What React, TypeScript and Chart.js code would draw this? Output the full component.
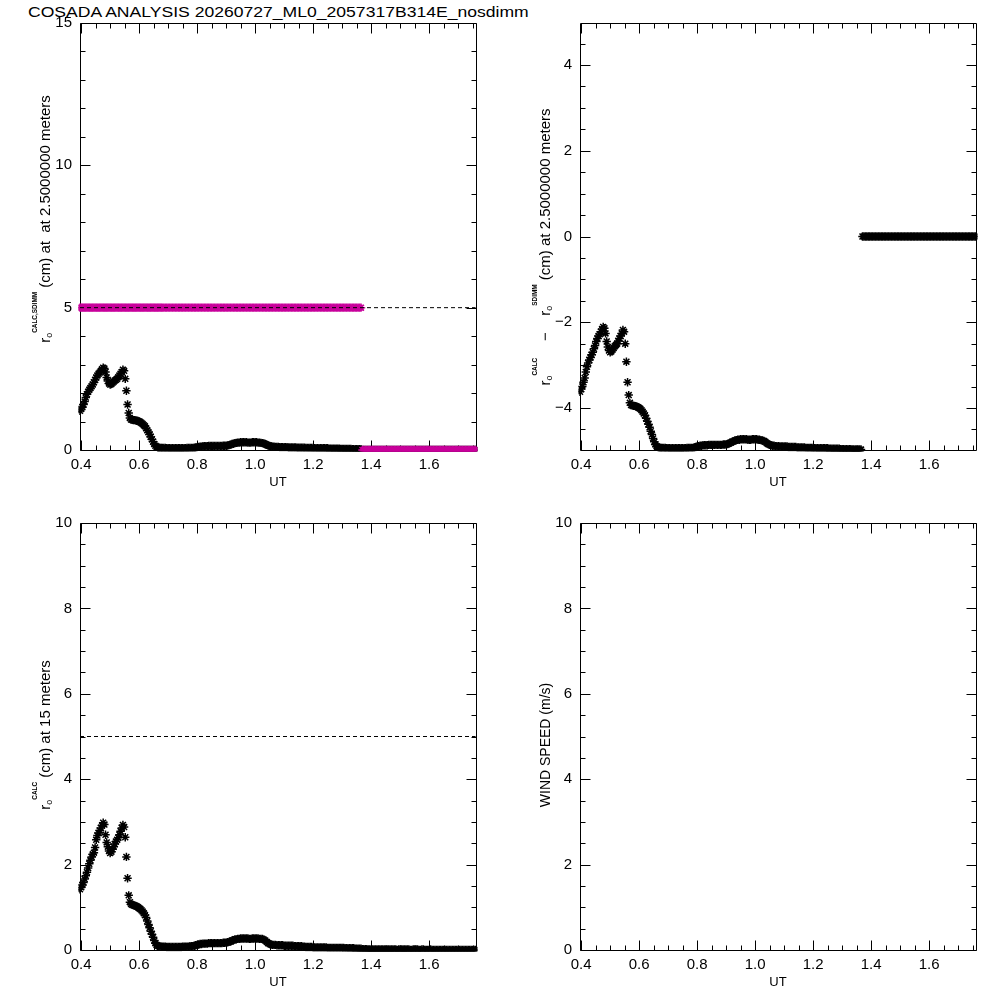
import React, { useEffect, useRef } from "react";
import { Chart, registerables } from "chart.js";

Chart.register(...registerables);

const FONT = '"Liberation Sans", Arial, Helvetica, sans-serif';

const PLOT_TITLE = "COSADA ANALYSIS 20260727_ML0_2057317B314E_nosdimm";

// UT (hours) of every sample
const UT = [
  0.396, 0.400, 0.404, 0.408, 0.412, 0.416, 0.420, 0.424, 0.428, 0.432,
  0.436, 0.440, 0.444, 0.448, 0.452, 0.456, 0.460, 0.464, 0.468, 0.472,
  0.476, 0.480, 0.484, 0.488, 0.492, 0.496, 0.500, 0.504, 0.508, 0.512,
  0.516, 0.520, 0.524, 0.528, 0.532, 0.536, 0.540, 0.544, 0.548, 0.552,
  0.556, 0.560, 0.564, 0.568, 0.572, 0.576, 0.580, 0.584, 0.588, 0.592,
  0.596, 0.600, 0.604, 0.608, 0.612, 0.616, 0.620, 0.624, 0.628, 0.632,
  0.636, 0.640, 0.644, 0.648, 0.652, 0.656, 0.660, 0.664, 0.668, 0.672,
  0.676, 0.680,
  0.685, 0.690, 0.695, 0.700, 0.705, 0.710, 0.715, 0.720, 0.725, 0.730,
  0.735, 0.740, 0.745, 0.750, 0.755, 0.760, 0.765, 0.770, 0.775, 0.780,
  0.785, 0.790, 0.795, 0.800, 0.805, 0.810, 0.815, 0.820, 0.825, 0.830,
  0.835, 0.840, 0.845, 0.850, 0.855, 0.860, 0.865, 0.870, 0.875, 0.880,
  0.885, 0.890, 0.895, 0.900, 0.905, 0.910, 0.915, 0.920, 0.925, 0.930,
  0.935, 0.940, 0.945, 0.950, 0.955, 0.960, 0.965, 0.970, 0.975, 0.980,
  0.985, 0.990, 0.995, 1.000, 1.005, 1.010, 1.015, 1.020, 1.025, 1.030,
  1.035, 1.040, 1.045, 1.050, 1.055, 1.060, 1.065, 1.070, 1.075, 1.080,
  1.085, 1.090, 1.095, 1.100, 1.105, 1.110, 1.115, 1.120, 1.125, 1.130,
  1.135, 1.140, 1.145, 1.150, 1.155, 1.160, 1.165, 1.170, 1.175, 1.180,
  1.185, 1.190, 1.195, 1.200, 1.205, 1.210, 1.215, 1.220, 1.225, 1.230,
  1.235, 1.240, 1.245, 1.250, 1.255, 1.260, 1.265, 1.270, 1.275, 1.280,
  1.285, 1.290, 1.295, 1.300, 1.305, 1.310, 1.315, 1.320, 1.325, 1.330,
  1.335, 1.340, 1.345, 1.350, 1.355, 1.360, 1.365,
  1.370, 1.375, 1.380, 1.385, 1.390, 1.395, 1.400, 1.405, 1.410, 1.415,
  1.420, 1.425, 1.430, 1.435, 1.440, 1.445, 1.450, 1.455, 1.460, 1.465,
  1.470, 1.475, 1.480, 1.485, 1.490, 1.495, 1.500, 1.505, 1.510, 1.515,
  1.520, 1.525, 1.530, 1.535, 1.540, 1.545, 1.550, 1.555, 1.560, 1.565,
  1.570, 1.575, 1.580, 1.585, 1.590, 1.595, 1.600, 1.605, 1.610, 1.615,
  1.620, 1.625, 1.630, 1.635, 1.640, 1.645, 1.650, 1.655, 1.660, 1.665,
  1.670, 1.675, 1.680, 1.685, 1.690, 1.695, 1.700, 1.705, 1.710, 1.715,
  1.720, 1.725, 1.730, 1.735, 1.740, 1.745, 1.750, 1.755, 1.760,
];

// r0 computed at 2.5 m (cm)
const R0_CALC_2P5 = [
  1.38, 1.44, 1.50, 1.60, 1.70, 1.84, 1.96, 2.05, 2.12, 2.18,
  2.24, 2.30, 2.38, 2.46, 2.55, 2.62, 2.68, 2.72, 2.78, 2.84,
  2.89, 2.86, 2.74, 2.55, 2.42, 2.34, 2.30, 2.32, 2.36, 2.40,
  2.44, 2.47, 2.50, 2.56, 2.62, 2.68, 2.74, 2.82, 2.78, 2.50,
  2.08, 1.60, 1.30, 1.12, 1.07, 1.06, 1.05, 1.05, 1.04, 1.03,
  1.02, 1.00, 0.98, 0.95, 0.91, 0.87, 0.83, 0.76, 0.69, 0.62,
  0.55, 0.46, 0.38, 0.29, 0.21, 0.15, 0.11, 0.09, 0.08, 0.07,
  0.07, 0.07,
  0.07, 0.07, 0.06, 0.06, 0.06, 0.06, 0.06, 0.06, 0.06, 0.06,
  0.06, 0.06, 0.06, 0.06, 0.06, 0.06, 0.07, 0.07, 0.07, 0.07,
  0.07, 0.08, 0.09, 0.10, 0.11, 0.12, 0.12, 0.13, 0.13, 0.13,
  0.13, 0.14, 0.14, 0.14, 0.14, 0.14, 0.14, 0.14, 0.14, 0.14,
  0.14, 0.15, 0.15, 0.15, 0.16, 0.17, 0.19, 0.21, 0.22, 0.24,
  0.25, 0.26, 0.26, 0.27, 0.27, 0.27, 0.27, 0.27, 0.26, 0.26,
  0.26, 0.27, 0.27, 0.27, 0.27, 0.26, 0.26, 0.25, 0.24, 0.23,
  0.21, 0.18, 0.16, 0.14, 0.13, 0.12, 0.12, 0.11, 0.11, 0.11,
  0.10, 0.10, 0.10, 0.10, 0.10, 0.10, 0.09, 0.09, 0.09, 0.09,
  0.09, 0.09, 0.08, 0.08, 0.08, 0.08, 0.08, 0.08, 0.07, 0.07,
  0.07, 0.07, 0.07, 0.07, 0.06, 0.06, 0.06, 0.06, 0.06, 0.06,
  0.06, 0.06, 0.06, 0.06, 0.05, 0.05, 0.05, 0.05, 0.05, 0.05,
  0.05, 0.05, 0.04, 0.04, 0.04, 0.04, 0.04, 0.04, 0.04, 0.04,
  0.03, 0.03, 0.03, 0.03, 0.03, 0.03, 0.03,
  0, 0, 0, 0, 0, 0, 0, 0, 0, 0,
  0, 0, 0, 0, 0, 0, 0, 0, 0, 0,
  0, 0, 0, 0, 0, 0, 0, 0, 0, 0,
  0, 0, 0, 0, 0, 0, 0, 0, 0, 0,
  0, 0, 0, 0, 0, 0, 0, 0, 0, 0,
  0, 0, 0, 0, 0, 0, 0, 0, 0, 0,
  0, 0, 0, 0, 0, 0, 0, 0, 0, 0,
  0, 0, 0, 0, 0, 0, 0, 0, 0,
];

// SDIMM r0 (cm)
const R0_SDIMM = [
  5, 5, 5, 5, 5, 5, 5, 5, 5, 5,
  5, 5, 5, 5, 5, 5, 5, 5, 5, 5,
  5, 5, 5, 5, 5, 5, 5, 5, 5, 5,
  5, 5, 5, 5, 5, 5, 5, 5, 5, 5,
  5, 5, 5, 5, 5, 5, 5, 5, 5, 5,
  5, 5, 5, 5, 5, 5, 5, 5, 5, 5,
  5, 5, 5, 5, 5, 5, 5, 5, 5, 5,
  5, 5,
  5, 5, 5, 5, 5, 5, 5, 5, 5, 5,
  5, 5, 5, 5, 5, 5, 5, 5, 5, 5,
  5, 5, 5, 5, 5, 5, 5, 5, 5, 5,
  5, 5, 5, 5, 5, 5, 5, 5, 5, 5,
  5, 5, 5, 5, 5, 5, 5, 5, 5, 5,
  5, 5, 5, 5, 5, 5, 5, 5, 5, 5,
  5, 5, 5, 5, 5, 5, 5, 5, 5, 5,
  5, 5, 5, 5, 5, 5, 5, 5, 5, 5,
  5, 5, 5, 5, 5, 5, 5, 5, 5, 5,
  5, 5, 5, 5, 5, 5, 5, 5, 5, 5,
  5, 5, 5, 5, 5, 5, 5, 5, 5, 5,
  5, 5, 5, 5, 5, 5, 5, 5, 5, 5,
  5, 5, 5, 5, 5, 5, 5, 5, 5, 5,
  5, 5, 5, 5, 5, 5, 5,
  0, 0, 0, 0, 0, 0, 0, 0, 0, 0,
  0, 0, 0, 0, 0, 0, 0, 0, 0, 0,
  0, 0, 0, 0, 0, 0, 0, 0, 0, 0,
  0, 0, 0, 0, 0, 0, 0, 0, 0, 0,
  0, 0, 0, 0, 0, 0, 0, 0, 0, 0,
  0, 0, 0, 0, 0, 0, 0, 0, 0, 0,
  0, 0, 0, 0, 0, 0, 0, 0, 0, 0,
  0, 0, 0, 0, 0, 0, 0, 0, 0,
];

// r0 computed at 15 m (cm)
const R0_CALC_15 = [
  1.42, 1.47, 1.52, 1.58, 1.66, 1.74, 1.82, 1.92, 2.02, 2.10,
  2.18, 2.24, 2.28, 2.40, 2.58, 2.68, 2.74, 2.80, 2.86, 2.92,
  2.98, 2.94, 2.70, 2.52, 2.42, 2.32, 2.27, 2.30, 2.36, 2.42,
  2.48, 2.54, 2.58, 2.63, 2.70, 2.78, 2.86, 2.93, 2.88, 2.64,
  2.18, 1.68, 1.28, 1.12, 1.08, 1.06, 1.05, 1.04, 1.03, 1.02,
  1.00, 0.98, 0.96, 0.93, 0.90, 0.86, 0.82, 0.76, 0.68, 0.60,
  0.52, 0.44, 0.37, 0.30, 0.22, 0.16, 0.12, 0.10, 0.09, 0.08,
  0.08, 0.08,
  0.08, 0.08, 0.07, 0.07, 0.07, 0.07, 0.07, 0.07, 0.07, 0.07,
  0.07, 0.07, 0.07, 0.08, 0.08, 0.08, 0.08, 0.08, 0.09, 0.09,
  0.09, 0.10, 0.11, 0.12, 0.13, 0.14, 0.14, 0.15, 0.15, 0.15,
  0.15, 0.16, 0.16, 0.16, 0.16, 0.16, 0.16, 0.16, 0.16, 0.16,
  0.16, 0.17, 0.17, 0.17, 0.18, 0.19, 0.20, 0.22, 0.23, 0.25,
  0.25, 0.26, 0.26, 0.27, 0.27, 0.27, 0.27, 0.27, 0.27, 0.26,
  0.26, 0.27, 0.27, 0.27, 0.27, 0.27, 0.26, 0.26, 0.26, 0.24,
  0.22, 0.19, 0.16, 0.14, 0.13, 0.12, 0.12, 0.12, 0.11, 0.11,
  0.11, 0.11, 0.11, 0.10, 0.10, 0.10, 0.10, 0.10, 0.10, 0.10,
  0.09, 0.09, 0.09, 0.09, 0.09, 0.09, 0.08, 0.08, 0.07, 0.07,
  0.07, 0.07, 0.07, 0.06, 0.06, 0.06, 0.06, 0.06, 0.06, 0.06,
  0.06, 0.06, 0.06, 0.05, 0.05, 0.05, 0.05, 0.05, 0.05, 0.05,
  0.05, 0.05, 0.05, 0.05, 0.05, 0.04, 0.04, 0.04, 0.04, 0.04,
  0.04, 0.04, 0.03, 0.03, 0.03, 0.03, 0.03,
  0.02, 0.02, 0.02, 0.02, 0.01, 0.01, 0.01, 0.01, 0.01, 0.01,
  0.01, 0.01, 0.01, 0.01, 0.01, 0.01, 0.01, 0.01, 0.01, 0.01,
  0.01, 0.01, 0.01, 0.01, 0.00, 0.01, 0.01, 0.01, 0.01, 0.01,
  0.01, 0.01, 0.01, 0.00, 0.00, 0.01, 0.01, 0.01, 0.01, 0.00,
  0.00, 0.01, 0.01, 0.00, 0.00, 0.00, 0.00, 0.01, 0.00, 0.00,
  0.00, 0.00, 0.00, 0.00, 0.00, 0.00, 0.00, 0.00, 0.00, 0.00,
  0.00, 0.00, 0.00, 0.00, 0.00, 0.00, 0.00, 0.00, 0.00, 0.00,
  0.00, 0.00, 0.00, 0.00, 0.00, 0.00, 0.00, 0.00, 0.00,
];

const R0_REFERENCE = 5;

const X_RANGE = [0.396, 1.7615];
const X_TICKS = [0.4, 0.6, 0.8, 1.0, 1.2, 1.4, 1.6];
const Y_TICKS_R0_2P5 = [0, 5, 10, 15];
const Y_TICKS_DIFF = [-4, -2, 0, 2, 4];
const Y_TICKS_R0_15 = [0, 2, 4, 6, 8, 10];
const Y_TICKS_WIND = [0, 2, 4, 6, 8, 10];

const MAGENTA = "#C8009B";

type Seg = { text: string; size: number; dy: number; sx: number; bold: boolean };

const seg = (text: string, size = 15, dy = 0, sx = 1, bold = false): Seg => ({ text, size, dy, sx, bold });

type FrameSpec = {
  xMinor: number;
  xMajor: number;
  yMinor: number;
  yMajor: number;
  label: Seg[];
  labelCenter: number;
};

function makeFramePlugin(spec: FrameSpec) {
  return {
    id: "idlFrame",
    beforeDatasetsDraw(chart: any) {
      const { ctx, chartArea: a, scales } = chart;
      const xs = scales.x;
      const ys = scales.y;
      const L = Math.round(a.left) + 0.5;
      const R = Math.round(a.right) + 0.5;
      const T = Math.round(a.top) + 0.5;
      const B = Math.round(a.bottom) + 0.5;
      ctx.save();
      ctx.strokeStyle = "#000";
      ctx.lineWidth = 1;
      ctx.beginPath();
      ctx.rect(L, T, R - L, B - T);
      ctx.stroke();
      const each = (min: number, max: number, step: number, major: number, fn: (v: number, big: boolean) => void) => {
        const k0 = Math.ceil(min / step - 1e-9);
        for (let k = k0; k * step <= max + 1e-9; k++) {
          const v = k * step;
          const r = v / major;
          fn(v, Math.abs(r - Math.round(r)) < 1e-6);
        }
      };
      ctx.beginPath();
      each(xs.min, xs.max, spec.xMinor, spec.xMajor, (v, big) => {
        const len = big ? 10 : 5;
        const px = Math.round(xs.getPixelForValue(v)) + 0.5;
        ctx.moveTo(px, B);
        ctx.lineTo(px, B - len);
        ctx.moveTo(px, T);
        ctx.lineTo(px, T + len);
      });
      each(ys.min, ys.max, spec.yMinor, spec.yMajor, (v, big) => {
        const len = big ? 10 : 5;
        const py = Math.round(ys.getPixelForValue(v)) + 0.5;
        ctx.moveTo(L, py);
        ctx.lineTo(L + len, py);
        ctx.moveTo(R, py);
        ctx.lineTo(R - len, py);
      });
      ctx.stroke();
      ctx.restore();
    },
    afterDraw(chart: any) {
      const segs = spec.label;
      if (!segs.length) return;
      const { ctx, chartArea: a } = chart;
      const baseX = a.left - 30;
      ctx.save();
      ctx.fillStyle = "#000";
      ctx.textAlign = "left";
      ctx.textBaseline = "alphabetic";
      const fontOf = (s: Seg) => `${s.bold ? "bold " : ""}${s.size}px ${FONT}`;
      const widths = segs.map((s) => {
        ctx.font = fontOf(s);
        return ctx.measureText(s.text).width * s.sx;
      });
      const total = widths.reduce((p, w) => p + w, 0);
      let along = spec.labelCenter + total / 2;
      segs.forEach((s, i) => {
        ctx.font = fontOf(s);
        ctx.save();
        ctx.translate(baseX + s.dy, along);
        ctx.rotate(-Math.PI / 2);
        ctx.scale(s.sx, 1);
        ctx.fillText(s.text, 0, 0);
        ctx.restore();
        along -= widths[i];
      });
      ctx.restore();
    },
  };
}

const starSet = (values: number[], color: string, order: number) => ({
  data: UT.map((t, i) => ({ x: t, y: values[i] })),
  showLine: false,
  pointStyle: "star",
  pointRadius: 4.2,
  pointHoverRadius: 4.2,
  pointBorderWidth: 1.5,
  borderColor: color,
  backgroundColor: color,
  clip: 1.5,
  order,
});

const refLine = () => ({
  data: [
    { x: UT[0], y: R0_REFERENCE },
    { x: UT[UT.length - 1], y: R0_REFERENCE },
  ],
  showLine: true,
  borderColor: "#000",
  borderWidth: 1,
  borderDash: [4, 3],
  pointRadius: 0,
  pointHoverRadius: 0,
  clip: 1,
  order: 0,
});

const fmtTick = (v: any) => {
  const n = Number(v);
  if (n < 0) return "\u2212" + String(Math.abs(n));
  return String(n);
};

function buildConfig(p: {
  yMin: number;
  yMax: number;
  yTicks: number[];
  yMinor: number;
  yMajor: number;
  datasets: any[];
  label: Seg[];
  labelCenter: number;
}): any {
  return {
    type: "scatter",
    data: { datasets: p.datasets },
    plugins: [
      makeFramePlugin({
        xMinor: 0.05,
        xMajor: 0.2,
        yMinor: p.yMinor,
        yMajor: p.yMajor,
        label: p.label,
        labelCenter: p.labelCenter,
      }),
    ],
    options: {
      responsive: false,
      animation: false,
      events: [],
      layout: { padding: { top: 23, right: 24, bottom: 0, left: 0 }, autoPadding: false },
      plugins: {
        legend: { display: false },
        tooltip: { enabled: false },
      },
      scales: {
        x: {
          type: "linear",
          position: "bottom",
          min: X_RANGE[0],
          max: X_RANGE[1],
          afterBuildTicks: (s: any) => {
            s.ticks = X_TICKS.map((v) => ({ value: v }));
          },
          afterFit: (s: any) => {
            s.height = 50;
          },
          grid: { display: false, drawTicks: false },
          border: { display: false },
          ticks: {
            color: "#000",
            font: { family: FONT, size: 15 },
            padding: 6,
            maxRotation: 0,
            autoSkip: false,
            callback: (v: any) => Number(v).toFixed(1),
          },
          title: {
            display: true,
            text: "UT",
            color: "#000",
            font: { family: FONT, size: 13 },
            padding: { top: 0, bottom: 10 },
          },
        },
        y: {
          type: "linear",
          position: "left",
          min: p.yMin,
          max: p.yMax,
          afterBuildTicks: (s: any) => {
            s.ticks = p.yTicks.map((v) => ({ value: v }));
          },
          afterFit: (s: any) => {
            s.width = 80;
          },
          grid: { display: false, drawTicks: false },
          border: { display: false },
          ticks: {
            color: "#000",
            font: { family: FONT, size: 15 },
            padding: 8,
            autoSkip: false,
            callback: fmtTick,
          },
        },
      },
    },
  };
}

const SUP = (t: string) => seg(t, 8, -13.5, 0.8, true);
const SUB_O = () => seg("o", 9, 2);
const R_SYM = () => seg("r", 15);

const PANELS = [
  {
    left: 0,
    top: 0,
    cfg: () =>
      buildConfig({
        yMin: 0,
        yMax: 15,
        yTicks: Y_TICKS_R0_2P5,
        yMinor: 1,
        yMajor: 5,
        datasets: [starSet(R0_CALC_2P5, "#000", 2), starSet(R0_SDIMM, MAGENTA, 1), refLine()],
        label: [R_SYM(), SUB_O(), SUP("CALC,SDIMM"), seg(" (cm) at  at 2.5000000 meters")],
        labelCenter: 219,
      }),
  },
  {
    left: 500,
    top: 0,
    cfg: () =>
      buildConfig({
        yMin: -4.98,
        yMax: 4.98,
        yTicks: Y_TICKS_DIFF,
        yMinor: 0.5,
        yMajor: 2,
        datasets: [
          starSet(
            R0_CALC_2P5.map((v, i) => v - R0_SDIMM[i]),
            "#000",
            2
          ),
        ],
        label: [
          R_SYM(),
          SUB_O(),
          SUP("CALC"),
          seg("    \u2212    "),
          R_SYM(),
          SUB_O(),
          SUP("SDIMM"),
          seg(" (cm) at 2.5000000 meters"),
        ],
        labelCenter: 247,
      }),
  },
  {
    left: 0,
    top: 500,
    cfg: () =>
      buildConfig({
        yMin: 0,
        yMax: 10,
        yTicks: Y_TICKS_R0_15,
        yMinor: 0.5,
        yMajor: 2,
        datasets: [starSet(R0_CALC_15, "#000", 2), refLine()],
        label: [R_SYM(), SUB_O(), SUP("CALC"), seg(" (cm) at 15 meters")],
        labelCenter: 235,
      }),
  },
  {
    left: 500,
    top: 500,
    cfg: () =>
      buildConfig({
        yMin: 0,
        yMax: 10,
        yTicks: Y_TICKS_WIND,
        yMinor: 0.5,
        yMajor: 2,
        datasets: [],
        label: [seg("WIND SPEED (m/s)", 14)],
        labelCenter: 245,
      }),
  },
];

function Panel({ left, top, cfg }: { left: number; top: number; cfg: () => any }) {
  const ref = useRef<HTMLCanvasElement | null>(null);
  useEffect(() => {
    if (!ref.current) return;
    const chart = new Chart(ref.current, cfg());
    return () => chart.destroy();
  }, []);
  return (
    <canvas
      ref={ref}
      width={500}
      height={500}
      style={{ position: "absolute", left, top, width: 500, height: 500 }}
    />
  );
}

export default function App() {
  return (
    <div
      style={{
        position: "absolute",
        left: 0,
        top: 0,
        width: 1000,
        height: 1000,
        background: "#fff",
        overflow: "hidden",
      }}
    >
      <div
        style={{
          position: "absolute",
          left: 28,
          top: 4,
          font: `14px ${FONT}`,
          lineHeight: "16px",
          color: "#000",
          whiteSpace: "nowrap",
          transform: "scaleX(1.255)",
          transformOrigin: "left top",
        }}
      >
        {PLOT_TITLE}
      </div>
      {PANELS.map((p, i) => (
        <Panel key={i} left={p.left} top={p.top} cfg={p.cfg} />
      ))}
    </div>
  );
}
